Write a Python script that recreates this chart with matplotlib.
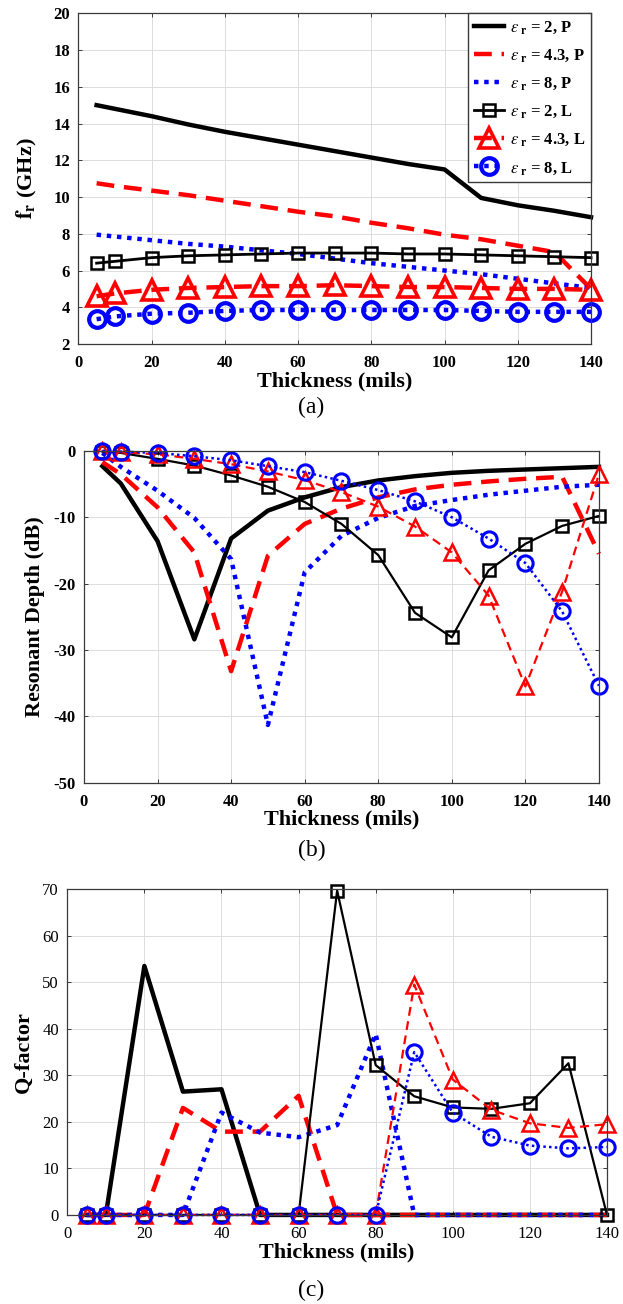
import numpy as np
import matplotlib
matplotlib.use('Agg')
from matplotlib import pyplot as plt

plt.rcParams['font.family'] = ['Liberation Serif', 'DejaVu Serif']
plt.rcParams['mathtext.fontset'] = 'stix'
plt.rcParams['axes.unicode_minus'] = False

# thickness in mils
thickness = [5, 10, 20, 30, 40, 50, 60, 70, 80, 90, 100, 110, 120, 130, 140]

# (a) resonant frequency (GHz)
fr_p2 = [15.0, 14.8, 14.4, 13.95, 13.55, 13.2, 12.85, 12.5, 12.15, 11.8, 11.5, 9.95, 9.55, 9.25, 8.9]
fr_p43 = [10.75, 10.6, 10.35, 10.1, 9.8, 9.5, 9.2, 8.95, 8.6, 8.3, 7.95, 7.7, 7.35, 7.0, 5.0]
fr_p8 = [7.95, 7.85, 7.65, 7.45, 7.3, 7.1, 6.9, 6.65, 6.4, 6.2, 6.0, 5.8, 5.55, 5.3, 5.05]
fr_l2 = [6.4, 6.5, 6.7, 6.8, 6.85, 6.9, 6.95, 6.95, 6.95, 6.9, 6.9, 6.85, 6.8, 6.75, 6.7]
fr_l43 = [4.6, 4.75, 4.95, 5.05, 5.1, 5.15, 5.15, 5.2, 5.15, 5.1, 5.1, 5.05, 5.0, 5.0, 4.95]
fr_l8 = [3.35, 3.5, 3.65, 3.7, 3.8, 3.85, 3.85, 3.85, 3.85, 3.85, 3.85, 3.8, 3.75, 3.75, 3.75]

# (b) resonant depth (dB)
rd_p2 = [-2.3, -4.9, -13.6, -28.4, -13.2, -9.0, -7.0, -5.45, -4.45, -3.8, -3.3, -3.0, -2.8, -2.6, -2.4]
rd_p43 = [-1.7, -3.5, -8.5, -15.3, -33.2, -15.8, -11.0, -8.7, -7.0, -5.8, -5.1, -4.6, -4.2, -3.9, -15.5]
rd_p8 = [-0.3, -2.4, -6.0, -10.1, -16.3, -41.3, -18.3, -12.8, -10.1, -8.3, -7.4, -6.6, -6.0, -5.4, -5.1]
rd_l2 = [-0.1, -0.3, -1.2, -2.2, -3.7, -5.4, -7.7, -11.0, -15.7, -24.4, -28.1, -18.0, -14.0, -11.3, -9.8]
rd_l43 = [0.0, -0.2, -0.5, -1.2, -2.0, -3.1, -4.4, -6.2, -8.4, -11.4, -15.3, -21.8, -35.5, -21.2, -3.5]
rd_l8 = [0.0, -0.1, -0.3, -0.8, -1.4, -2.3, -3.2, -4.5, -5.9, -7.6, -10.0, -13.2, -16.9, -24.2, -35.4]

# (c) Q-factor
q_p2 = [0, 0, 53.5, 26.5, 27.0, 0, 0, 0, 0, 0, 0, 0, 0, 0, 0]
q_p43 = [0, 0, 0, 23.0, 17.9, 17.9, 25.6, 0, 0, 0, 0, 0, 0, 0, 0]
q_p8 = [0, 0, 0, 0, 22.0, 17.7, 16.7, 19.3, 38.9, 0, 0, 0, 0, 0, 0]
q_l2 = [0, 0, 0, 0, 0, 0, 0, 69.7, 32.2, 25.5, 23.1, 22.8, 24.0, 32.6, 0]
q_l43 = [0, 0, 0, 0, 0, 0, 0, 0, 0, 49.5, 29.1, 22.6, 19.7, 18.7, 19.5]
q_l8 = [0, 0, 0, 0, 0, 0, 0, 0, 0, 35.0, 22.0, 16.8, 14.9, 14.3, 14.6]

labels = [r'$\epsilon_{\ \mathbf{r}}$ = 2, P', r'$\epsilon_{\ \mathbf{r}}$ = 4.3, P',
          r'$\epsilon_{\ \mathbf{r}}$ = 8, P', r'$\epsilon_{\ \mathbf{r}}$ = 2, L',
          r'$\epsilon_{\ \mathbf{r}}$ = 4.3, L', r'$\epsilon_{\ \mathbf{r}}$ = 8, L']

BLUE = '#0000ff'
RED = '#ff0000'


def style_axes(ax, ylim, yticks, bold_ticks=True):
    ax.set_xlim(0, 140)
    ax.set_xticks(np.arange(0, 141, 20))
    ax.set_ylim(*ylim)
    ax.set_yticks(yticks)
    ax.grid(True, color='#dcdcdc', lw=0.7)
    ax.set_axisbelow(True)
    for s in ax.spines.values():
        s.set_color('#3a3a3a')
        s.set_linewidth(0.9)
    ax.tick_params(direction='in', length=3, width=0.7, color='#3a3a3a',
                   labelsize=12, top=True, right=True)
    ax.tick_params(axis='x', pad=8)
    ax.tick_params(axis='y', pad=6)
    w = 'bold' if bold_ticks else 'normal'
    for t in ax.get_xticklabels() + ax.get_yticklabels():
        t.set_fontweight(w)
    ax.set_xlabel('Thickness (mils)', fontsize=16, fontweight='bold', labelpad=0)


def draw(ax, p2, p43, p8, l2, l43, l8, thick_l=False):
    lwp = 3.2
    ax.plot(thickness, p2, color='black', lw=lwp, label=labels[0])
    ax.plot(thickness, p43, color=RED, lw=lwp, dashes=(4, 2.2), label=labels[1])
    ax.plot(thickness, p8, color=BLUE, lw=lwp, dashes=(1, 1.3), label=labels[2])
    if thick_l:
        ax.plot(thickness, l2, color='black', lw=2.0, marker='s', ms=9, mfc='none', mew=1.8, label=labels[3])
        ax.plot(thickness, l43, color=RED, lw=3.2, dashes=(4, 2.2), marker='^', ms=15, mfc='none', mew=2.6, label=labels[4])
        ax.plot(thickness, l8, color=BLUE, lw=3.2, dashes=(1, 1.3), marker='o', ms=12, mfc='none', mew=3.0, label=labels[5])
    else:
        ax.plot(thickness, l2, color='black', lw=1.6, marker='s', ms=9, mfc='none', mew=1.8, label=labels[3])
        ax.plot(thickness, l43, color=RED, lw=1.6, dashes=(4, 2.5), marker='^', ms=12, mfc='none', mew=1.8, label=labels[4])
        ax.plot(thickness, l8, color=BLUE, lw=1.8, dashes=(1, 1.3), marker='o', ms=11, mfc='none', mew=2.2, label=labels[5])


fig = plt.figure(figsize=(6.23, 13.04), dpi=100)

ax_a = fig.add_axes([0.1257, 0.7362, 0.823, 0.2536])
draw(ax_a, fr_p2, fr_p43, fr_p8, fr_l2, fr_l43, fr_l8, thick_l=True)
style_axes(ax_a, (2, 20), np.arange(2, 21, 2))
ax_a.set_ylabel(r'$\mathbf{f}_{\mathbf{r}}$ (GHz)', fontsize=16, fontweight='bold', labelpad=10)
leg = ax_a.legend(loc='upper right', borderaxespad=0, fancybox=False, framealpha=1,
                  edgecolor='#3a3a3a', handlelength=1.8, handletextpad=0.35,
                  labelspacing=0.68, borderpad=0.35,
                  prop={'family': 'Liberation Serif', 'weight': 'bold', 'size': 12})
leg.get_frame().set_linewidth(1.0)

ax_b = fig.add_axes([0.1348, 0.3998, 0.8266, 0.2544])
draw(ax_b, rd_p2, rd_p43, rd_p8, rd_l2, rd_l43, rd_l8)
style_axes(ax_b, (-50, 0), np.arange(-50, 1, 10))
ax_b.set_ylabel('Resonant Depth (dB)', fontsize=16, fontweight='bold', labelpad=6)

ax_c = fig.add_axes([0.108, 0.0683, 0.8663, 0.2498])
draw(ax_c, q_p2, q_p43, q_p8, q_l2, q_l43, q_l8)
style_axes(ax_c, (0, 70), np.arange(0, 71, 10), bold_ticks=False)
for ax in (ax_a, ax_b, ax_c):
    for ln in ax.get_lines():
        ln.set_clip_on(False)
ax_c.set_ylabel('Q-factor', fontsize=16, fontweight='bold', labelpad=6)

fig.text(0.5, 1 - 407 / 1304, '(a)', ha='center', va='center', fontsize=17)
fig.text(0.5, 1 - 850 / 1304, '(b)', ha='center', va='center', fontsize=17)
fig.text(0.5, 1 - 1290 / 1304, '(c)', ha='center', va='center', fontsize=17)

fig.savefig('out.png', dpi=100)
